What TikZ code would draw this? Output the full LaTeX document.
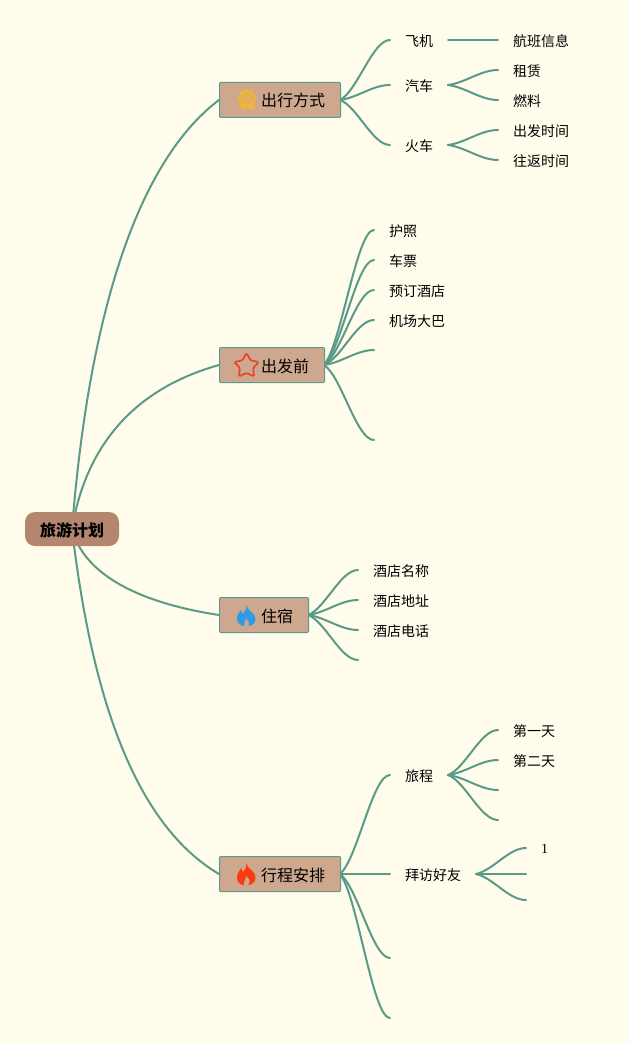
\documentclass[tikz,border=0pt]{standalone}
\usepackage{fontspec}
\setmainfont{Noto Sans CJK SC}
\newfontfamily\serifdigit{Liberation Serif}
\usetikzlibrary{shapes.geometric,calc}
\definecolor{bgc}{HTML}{FFFCEC}
\definecolor{linkc}{HTML}{5B9A89}
\definecolor{boxc}{HTML}{CDA78E}
\definecolor{rootc}{HTML}{B5866F}
\definecolor{medalc}{HTML}{F0B53A}
\definecolor{starc}{HTML}{E8452A}
\definecolor{blueflame}{HTML}{2E9BE6}
\definecolor{redflame}{HTML}{FB3A10}
\tikzset{
  x=1pt,y=-1pt,
  link/.style={draw=linkc,line width=2pt,line cap=round},
  rootbox/.style={fill=rootc,rounded corners=10pt,minimum width=94pt,minimum height=34pt,inner sep=0pt,text height=14pt,text depth=0pt,font=\fontsize{16}{16}\selectfont\bfseries,text=black},
  mainbox/.style={draw=linkc,fill=boxc,line width=1pt,rounded corners=1pt,minimum height=35pt,inner sep=0pt,text height=14pt,text depth=0pt,anchor=west,font=\fontsize{16}{16}\selectfont,text=black},
  leaf/.style={inner sep=0pt,anchor=west,font=\fontsize{14}{14}\selectfont,text=black},
}
\begin{document}
\begin{tikzpicture}
\useasboundingbox (0,0) rectangle (629,1043);
\fill[bgc] (0,0) rectangle (629,1043);

% hubs and free ends
\coordinate (rootc1) at (72,529);
\coordinate (h1) at (340,100);
\coordinate (h2) at (324,365);
\coordinate (h3) at (308,615);
\coordinate (h4) at (340,874);
\coordinate (e1) at (390,40);
\coordinate (e2) at (390,85);
\coordinate (e3) at (390,145);
\coordinate (fj) at (448,40);
\coordinate (fje) at (498,40);
\coordinate (qc) at (448,85);
\coordinate (qc1) at (498,70);
\coordinate (qc2) at (498,100);
\coordinate (hc) at (448,145);
\coordinate (hc1) at (498,130);
\coordinate (hc2) at (498,160);
\coordinate (b1) at (374,230);
\coordinate (b2) at (374,260);
\coordinate (b3) at (374,290);
\coordinate (b4) at (374,320);
\coordinate (b5) at (374,350);
\coordinate (b6) at (374,440);
\coordinate (z1) at (358,570);
\coordinate (z2) at (358,600);
\coordinate (z3) at (358,630);
\coordinate (z4) at (358,660);
\coordinate (x1) at (390,775);
\coordinate (x2) at (390,874);
\coordinate (x3) at (390,958);
\coordinate (x4) at (390,1018);
\coordinate (lc) at (448,775);
\coordinate (lc1) at (498,730);
\coordinate (lc2) at (498,760);
\coordinate (lc3) at (498,790);
\coordinate (lc4) at (498,820);
\coordinate (bf) at (476,874);
\coordinate (bf1) at (526,848);
\coordinate (bf2) at (526,874);
\coordinate (bf3) at (526,900);

% level-one connectors
\draw[link] (rootc1) .. controls (91,290) and (146,155) .. (219,100);
\draw[link] (rootc1) .. controls (85,450) and (130,390) .. (219,365);
\draw[link] (rootc1) .. controls (84,575) and (140,603) .. (219,615);
\draw[link] (rootc1) .. controls (92,700) and (136,825) .. (219,874);

% level-two connectors
\foreach \a/\b in {h1/e1,h1/e2,h1/e3,qc/qc1,qc/qc2,hc/hc1,hc/hc2,
  h2/b1,h2/b2,h2/b3,h2/b4,h2/b5,h2/b6,h3/z1,h3/z2,h3/z3,h3/z4,
  h4/x1,h4/x2,h4/x3,h4/x4,lc/lc1,lc/lc2,lc/lc3,lc/lc4,bf/bf1,bf/bf2,bf/bf3}{
  \draw[link] let \p1=(\a),\p2=(\b) in (\a) .. controls ({\x1+.35*(\x2-\x1)},{\y1+.15*(\y2-\y1)}) and ({\x1+.65*(\x2-\x1)},\y2) .. (\b);
}
\draw[link] (fj) -- (fje);

% nodes
\node[rootbox] (root) at (72,529) {旅游计划};
\node[mainbox,minimum width=121pt] (m1) at (219,100) {\hspace*{26pt}出行方式};
\node[mainbox,minimum width=105pt] (m2) at (219,365) {\hspace*{26pt}出发前};
\node[mainbox,minimum width=89pt] (m3) at (219,615) {\hspace*{26pt}住宿};
\node[mainbox,minimum width=121pt] (m4) at (219,874) {\hspace*{26pt}行程安排};

% icons
\begin{scope}[shift={(247,99)}]
  \fill[medalc] (-5,4) -- (-9.5,9) -- (-5.5,9) -- (-3,11.5) -- (0,7) -- (3,11.5) -- (5.5,9) -- (9.5,9) -- (5,4) -- cycle;
  \draw[medalc,line width=2.4pt,fill=boxc!45!medalc] (0,-1) circle (7.6);
  \draw[medalc,line width=1.1pt] (0,-1) circle (3);
\end{scope}
\node[star,star points=5,star point ratio=1.9,draw=starc,line width=1.7pt,minimum size=26pt,inner sep=0pt,rounded corners=1.5pt] (starIcon) at (246.5,366) {};
\fill[blueflame] (246,605) .. controls (247,611) and (255.5,612) .. (255.5,619) .. controls (255.5,623) and (252,626) .. (248.5,626) .. controls (250,623) and (248,620) .. (246,618) .. controls (246,621) and (243,623) .. (244,626) .. controls (240,626) and (237,622) .. (237,618) .. controls (237,614) and (240,612) .. (241,610) .. controls (242,612) and (242,613) .. (243,614) .. controls (245,611) and (247,609) .. (246,605) -- cycle;
\fill[redflame] (246,863) .. controls (247,869) and (255.5,870) .. (255.5,878) .. controls (255.5,882) and (251,885) .. (248.5,885) .. controls (251,881) and (249,878) .. (246,876) .. controls (246,880) and (243,881) .. (244,885) .. controls (240,885) and (237,882) .. (237,877) .. controls (237,873) and (240,871) .. (241,868) .. controls (242,870) and (242,871) .. (243,872) .. controls (245,870) and (247,867) .. (246,863) -- cycle;

% leaves
\node[leaf] (t1) at (405,41) {飞机};
\node[leaf] (t2) at (405,86) {汽车};
\node[leaf] (t3) at (405,146) {火车};
\node[leaf] (t4) at (513,41) {航班信息};
\node[leaf] (t5) at (513,71) {租赁};
\node[leaf] (t6) at (513,101) {燃料};
\node[leaf] (t7) at (513,131) {出发时间};
\node[leaf] (t8) at (513,161) {往返时间};
\node[leaf] (t9) at (389,231) {护照};
\node[leaf] (t10) at (389,261) {车票};
\node[leaf] (t11) at (389,291) {预订酒店};
\node[leaf] (t12) at (389,321) {机场大巴};
\node[leaf] (t13) at (373,571) {酒店名称};
\node[leaf] (t14) at (373,601) {酒店地址};
\node[leaf] (t15) at (373,631) {酒店电话};
\node[leaf] (t16) at (405,776) {旅程};
\node[leaf] (t17) at (405,875) {拜访好友};
\node[leaf] (t18) at (513,731) {第一天};
\node[leaf] (t19) at (513,761) {第二天};
\node[leaf,font=\fontsize{14}{14}\serifdigit] (t20) at (541,849) {1};
\end{tikzpicture}
\end{document}
